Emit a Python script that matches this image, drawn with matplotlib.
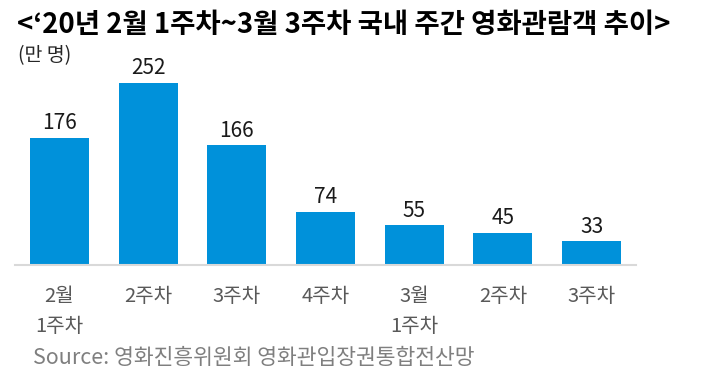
import matplotlib
matplotlib.use("Agg")
import matplotlib.pyplot as plt

plt.rcParams['font.family'] = ['Noto Sans CJK KR', 'DejaVu Sans']

weeks = ['2월\n1주차', '2주차', '3주차', '4주차', '3월\n1주차', '2주차', '3주차']
viewers = [176, 252, 166, 74, 55, 45, 33]

fig = plt.figure(figsize=(7.02, 3.81), dpi=100)
ax = fig.add_axes([15/702, 116/381, 621/702, 205/381])

x = list(range(len(weeks)))
ax.bar(x, viewers, width=0.665, color='#0091DA', zorder=2)
for i, v in enumerate(viewers):
    ax.text(i, v + 5, str(v), ha='center', va='bottom', fontsize=15, color='#1a1a1a')

ax.set_xlim(-0.5, 6.5)
ax.set_ylim(0, 284)
ax.set_xticks(x)
ax.set_xticklabels(weeks, fontsize=14.5, color='#595959', linespacing=1.6, va='top')
ax.tick_params(axis='x', length=0, pad=15)
ax.set_yticks([])
for s in ['top', 'right', 'left']:
    ax.spines[s].set_visible(False)
ax.spines['bottom'].set_color('#D9D9D9')
ax.spines['bottom'].set_linewidth(1.5)

fig.text(17/702, 1 - 25/381, "<‘20년 2월 1주차~3월 3주차 국내 주간 영화관람객 추이>",
         fontsize=19.8, fontweight='bold', va='center', ha='left', color='black')
fig.text(18/702, 1 - 56/381, "(만 명)", fontsize=14, va='center', ha='left', color='#262626')
fig.text(33/702, 1 - 358/381, "Source: 영화진흥위원회 영화관입장권통합전산망", fontsize=15.5,
         va='center', ha='left', color='#7F7F7F')

fig.savefig('out.png', dpi=100)
